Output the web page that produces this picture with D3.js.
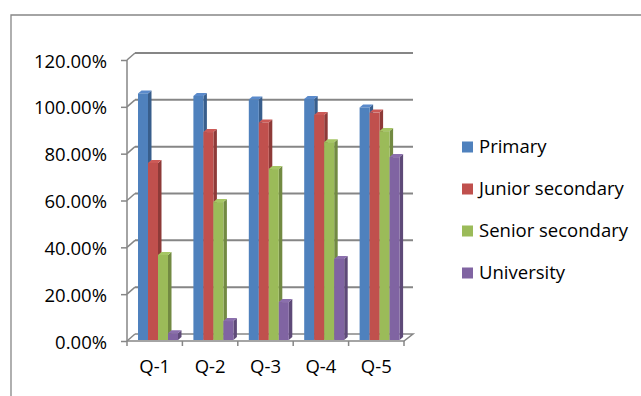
<!DOCTYPE html>
<html>
<head>
<meta charset="utf-8">
<script src="https://cdn.jsdelivr.net/npm/d3@7"></script>
<style>
  html, body { margin: 0; padding: 0; background: #fff; }
  svg { display: block; }
  text { font-family: "Open Sans", sans-serif; fill: #000; }
</style>
</head>
<body>
<svg id="chart" width="641" height="396"></svg>
<script>
// ---- data ----
const categories = ["Q-1", "Q-2", "Q-3", "Q-4", "Q-5"];
const seriesNames = ["Primary", "Junior secondary", "Senior secondary", "University"];
const primary = [1.053, 1.042, 1.027, 1.029, 0.993];
const juniorSecondary = [0.756, 0.888, 0.929, 0.961, 0.971];
const seniorSecondary = [0.363, 0.589, 0.730, 0.845, 0.892];
const university = [0.029, 0.081, 0.162, 0.346, 0.781];
const yTicks = [0, 0.2, 0.4, 0.6, 0.8, 1.0, 1.2];
const seriesValues = [primary, juniorSecondary, seniorSecondary, university];

const colors = ["#4F81BD", "#C0504D", "#9BBB59", "#8064A2"];
const sideColors = ["#385E8C", "#8E3A38", "#728A42", "#5E4A78"];
const topColors = ["#5A8ACB", "#CC5A57", "#A6C665", "#8B6FAD"];

const svg = d3.select("#chart");
const gridColor = "#868686";
const FONT = "Open Sans";
const FS = 18.5;

// chart frame (extends beyond view on right/bottom)
svg.append("path")
  .attr("d", "M11,400 L11,15 L645,15")
  .attr("fill", "none").attr("stroke", gridColor).attr("stroke-width", 1.3);

const x = d3.scaleBand().domain(categories).range([127, 404]);
const inner = d3.scaleBand().domain(seriesNames).range([0, 40]);
const y = d3.scaleLinear().domain([0, 1.2]).range([341, 60]);
const dx = 8, dy = -7;        // wall depth
const bdx = 3.5, bdy = -3;    // bar depth

// back-wall gridlines and side-wall diagonals
const grid = svg.append("g");
yTicks.forEach(t => {
  const yy = y(t);
  if (t > 0) {
    grid.append("line").attr("x1", 127 + dx).attr("x2", 413).attr("y1", yy + dy).attr("y2", yy + dy)
      .attr("stroke", gridColor).attr("stroke-width", 2);
  }
  grid.append("line").attr("x1", 127).attr("x2", 127 + dx).attr("y1", yy).attr("y2", yy + dy)
    .attr("stroke", gridColor).attr("stroke-width", 1.5);
});
// floor
grid.append("path")
  .attr("d", `M127,${y(0)} L404,${y(0)} L${404 + dx + 1},${y(0) + dy} L${127 + dx},${y(0) + dy}`)
  .attr("fill", "none").attr("stroke", gridColor).attr("stroke-width", 1.5);

// y axis
const yAxis = d3.axisLeft(y).tickValues(yTicks).tickSize(6).tickPadding(14)
  .tickFormat(d => (d * 100).toFixed(2) + "%");
const ya = svg.append("g").attr("transform", "translate(127,0)").call(yAxis);
ya.select(".domain").attr("stroke", gridColor).attr("stroke-width", 1.5).attr("d", `M0,${y(0)}V${y(1.2)}`);
ya.selectAll(".tick line").attr("stroke", gridColor).attr("stroke-width", 1.5);
ya.selectAll(".tick text").attr("font-size", FS).attr("font-family", FONT).attr("fill", "#000").attr("dy", "0.38em");

// x axis
const xAxis = d3.axisBottom(x).tickSize(0).tickPadding(19);
const xa = svg.append("g").attr("transform", `translate(0,${y(0)})`).call(xAxis);
xa.select(".domain").remove();
xa.selectAll(".tick text").attr("font-size", FS).attr("font-family", FONT).attr("fill", "#000");
// category boundary ticks
const bounds = categories.map(c => x(c)).concat([x.range()[1]]);
svg.append("g").selectAll("line").data(bounds).join("line")
  .attr("x1", d => d).attr("x2", d => d).attr("y1", y(0)).attr("y2", y(0) + 5)
  .attr("stroke", gridColor).attr("stroke-width", 1.5);

// bars
const bars = svg.append("g");
categories.forEach((c, ci) => {
  seriesNames.forEach((s, si) => {
    const v = seriesValues[si][ci];
    const x0 = x(c) + 11 + inner(s);
    const w = inner.bandwidth();
    const y0 = y(v) - 1;
    const yb = y(0) - 1;
    // side
    bars.append("path")
      .attr("d", `M${x0 + w},${yb} L${x0 + w},${y0} L${x0 + w + bdx},${y0 + bdy} L${x0 + w + bdx},${yb + bdy} Z`)
      .attr("fill", sideColors[si]);
    // top
    bars.append("path")
      .attr("d", `M${x0},${y0} L${x0 + bdx},${y0 + bdy} L${x0 + w + bdx},${y0 + bdy} L${x0 + w},${y0} Z`)
      .attr("fill", topColors[si]);
    // front
    bars.append("rect").attr("x", x0).attr("y", y0).attr("width", w).attr("height", yb - y0)
      .attr("fill", colors[si]);
  });
});

// legend
const legend = svg.append("g");
const ly = d3.scalePoint().domain(seriesNames).range([147, 273]);
seriesNames.forEach((s, i) => {
  legend.append("rect").attr("x", 462).attr("y", ly(s) - 5.5).attr("width", 11).attr("height", 11)
    .attr("fill", colors[i]);
  legend.append("text").attr("x", 479).attr("y", ly(s)).attr("dy", "0.32em")
    .attr("font-size", FS).attr("font-family", FONT).text(s);
});
</script>
</body>
</html>
